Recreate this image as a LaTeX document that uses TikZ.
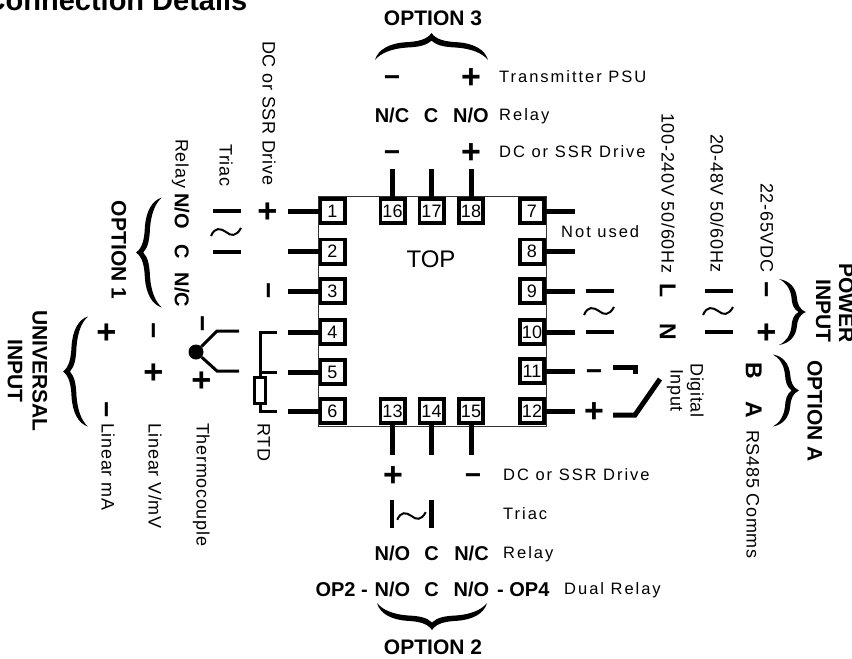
\documentclass[tikz,border=0pt]{standalone}
\usepackage{fontspec}
\setmainfont{Liberation Sans}

\begin{document}
\begin{tikzpicture}[x=1pt, y=-1pt,
      block_chip/.style ={rectangle, draw=black!80, line width=1pt, fill=white,
        minimum width=228pt, minimum height=229.5pt, inner sep=0pt},
      block_pin/.style ={rectangle, draw=black, line width=3.7pt, fill=white,
        minimum size=24.3pt, inner sep=0pt,
        font=\fontsize{18}{19}\selectfont, text height=12.9pt, text depth=0pt},
      block_bar/.style ={rectangle, fill=black, minimum width=28pt,
        minimum height=4.5pt, inner sep=0pt},
      block_res/.style ={rectangle, draw=black, line width=3pt, fill=white,
        minimum width=11pt, minimum height=26pt, inner sep=0pt},
      block_joint/.style ={circle, fill=black, minimum size=15pt, inner sep=0pt},
      turned/.style ={rotate=-90},
      text_plus/.style ={inner sep=0pt, text height=23pt, text depth=0pt,
        font=\fontsize{34}{36}\selectfont\bfseries},
      text_minus/.style ={inner sep=0pt, text height=19pt, text depth=0pt,
        font=\fontsize{28}{30}\selectfont\bfseries},
      text_bold/.style ={inner sep=0pt, text height=14.3pt, text depth=0pt,
        font=\fontsize{20}{22}\selectfont\bfseries},
      text_head/.style ={inner sep=0pt, text height=15pt, text depth=0pt,
        font=\fontsize{21}{23}\selectfont\bfseries},
      text_note/.style ={inner sep=0pt, text height=11.8pt, text depth=0pt,
        font=\fontsize{16.5}{18}\selectfont\addfontfeature{LetterSpace=12}},
      text_side/.style ={inner sep=0pt, text height=13pt, text depth=0pt, rotate=-90,
        font=\fontsize{18}{20}\selectfont\addfontfeature{LetterSpace=4}},
      line/.style ={draw, line width=5pt},
      wire/.style ={draw, line width=3pt},
      brace_curly/.pic={
        \fill (-1,0) .. controls (-0.95,-0.38) and (-0.75,-0.62) .. (-0.45,-0.66)
          .. controls (-0.25,-0.68) and (-0.08,-0.75) .. (0,-1)
          .. controls (0.08,-0.75) and (0.25,-0.68) .. (0.45,-0.66)
          .. controls (0.75,-0.62) and (0.95,-0.38) .. (1,0)
          .. controls (0.9,-0.26) and (0.7,-0.42) .. (0.45,-0.46)
          .. controls (0.25,-0.48) and (0.1,-0.52) .. (0,-0.72)
          .. controls (-0.1,-0.52) and (-0.25,-0.48) .. (-0.45,-0.46)
          .. controls (-0.7,-0.42) and (-0.9,-0.26) .. (-1,0) -- cycle;
      },
      wave_line/.pic={
        \draw[line width=2pt] (-15,4) .. controls (-11,-5) and (-6,-4) .. (0,0)
          .. controls (5,4) and (10,5) .. (15,-4);
      }]
    \useasboundingbox (0,0) rectangle (852,659);
    %
    % 1. the unit and its terminals
    \node [anchor=base west, inner sep=0pt, font=\fontsize{29}{31}\selectfont\bfseries]
      (title) at (-15.5,10) {Connection Details};
    \node [block_chip] (chip) at (432,311.25) {};
    \node [inner sep=0pt, font=\fontsize{24}{26}\selectfont] (top) at (431,259) {TOP};
    % left row
    \node [block_pin] (p1) at (332.5,211) {1};
    \node [block_pin] (p2) at (332.5,251.5) {2};
    \node [block_pin] (p3) at (332.5,291) {3};
    \node [block_pin] (p4) at (332.5,332) {4};
    \node [block_pin] (p5) at (332.5,372) {5};
    \node [block_pin] (p6) at (332.5,411) {6};
    % right row
    \node [block_pin] (p7) at (532,211) {7};
    \node [block_pin] (p8) at (532,251.5) {8};
    \node [block_pin] (p9) at (532,291) {9};
    \node [block_pin] (p10) at (532,332) {10};
    \node [block_pin] (p11) at (532,371) {11};
    \node [block_pin] (p12) at (532,411) {12};
    % bottom row
    \node [block_pin] (p13) at (392.5,411) {13};
    \node [block_pin] (p14) at (431.5,411) {14};
    \node [block_pin] (p15) at (471,411) {15};
    % top row
    \node [block_pin] (p16) at (392.5,211) {16};
    \node [block_pin] (p17) at (431.5,211) {17};
    \node [block_pin] (p18) at (471,211) {18};
    %
    % 2. free ends of the terminal leads
    \coordinate (w1) at (288,211);
    \coordinate (w2) at (288,251.5);
    \coordinate (w3) at (288,291);
    \coordinate (w4) at (288,332);
    \coordinate (w5) at (288,372);
    \coordinate (w6) at (288,411);
    \coordinate (w7) at (575,211);
    \coordinate (w8) at (575,251.5);
    \coordinate (w9) at (575,291);
    \coordinate (w10) at (575,332);
    \coordinate (w11) at (575,371);
    \coordinate (w12) at (575,411);
    \coordinate (w13) at (392.5,455);
    \coordinate (w14) at (431.5,455);
    \coordinate (w15) at (471,455);
    \coordinate (w16) at (392.5,169);
    \coordinate (w17) at (431.5,169);
    \coordinate (w18) at (471,169);
    %
    % 3. option 3, above the unit
    \node [text_head] (op3) at (433,18) {OPTION 3};
    \pic at (431.5,60) [xscale=56.5, yscale=27] {brace_curly};
    \node [text_minus] (psu_neg) at (392,77) {−};
    \node [text_plus] (psu_pos) at (471,77) {+};
    \node [text_note, anchor=west] (psu) at (499,77) {Transmitter PSU};
    \node [text_bold] (rly3_nc) at (392,115) {N/C};
    \node [text_bold] (rly3_c) at (431,115) {C};
    \node [text_bold] (rly3_no) at (471,115) {N/O};
    \node [text_note, anchor=west] (rly3) at (499,115) {Relay};
    \node [text_minus] (dc3_neg) at (392,152) {−};
    \node [text_plus] (dc3_pos) at (471,152) {+};
    \node [text_note, anchor=west] (dc3) at (499,152) {DC or SSR Drive};
    %
    % 4. option 1, left of the unit
    \node [text_plus, turned] (dc1_pos) at (268,211) {+};
    \node [text_minus, turned] (dc1_neg) at (269,291) {−};
    \node [text_side, anchor=west] (dc1) at (269,41) {DC or SSR Drive};
    \node [block_bar] (tri1_a) at (227,211) {};
    \node [block_bar] (tri1_b) at (227,252) {};
    \pic at (226,232) {wave_line};
    \node [text_side, anchor=west] (tri1) at (226,144) {Triac};
    \node [text_side, anchor=west] (rly1) at (182,139) {Relay};
    \node [text_bold, turned] (rly1_no) at (182,211) {N/O};
    \node [text_bold, turned] (rly1_c) at (182,252) {C};
    \node [text_bold, turned] (rly1_nc) at (182,290) {N/C};
    \pic at (162,252.5) [rotate=90, xscale=55, yscale=26] {brace_curly};
    \node [text_head, turned] (op1) at (119,250) {OPTION 1};
    %
    % 5. universal input, left of the unit
    \node [block_res] (rtd_res) at (260,390.5) {};
    \node [text_side, anchor=west] (rtd) at (264,423) {RTD};
    \coordinate (rtd_a) at (277,332);
    \coordinate (rtd_b) at (277,372);
    \coordinate (rtd_c) at (277,411);
    \coordinate (rtd_d) at (260,372);
    \node [block_joint] (tc_joint) at (196,352) {};
    \coordinate (tc_a) at (239,331);
    \coordinate (tc_b) at (217,331);
    \coordinate (tc_c) at (239,371);
    \coordinate (tc_d) at (217,371);
    \node [text_minus, turned] (tc_neg) at (203,324) {−};
    \node [text_plus, turned] (tc_pos) at (202,380) {+};
    \node [text_side, anchor=west] (tc) at (203,423) {Thermocouple};
    \node [text_minus, turned] (lv_neg) at (154,331) {−};
    \node [text_plus, turned] (lv_pos) at (154,372) {+};
    \node [text_side, anchor=west] (lv) at (155,423) {Linear V/mV};
    \node [text_plus, turned] (la_pos) at (107,332) {+};
    \node [text_minus, turned] (la_neg) at (107,410) {−};
    \node [text_side, anchor=west] (la) at (108,423) {Linear mA};
    \pic at (88,371.5) [rotate=90, xscale=55, yscale=25] {brace_curly};
    \node [text_head, turned] (univ) at (40,371) {UNIVERSAL};
    \node [text_head, turned] (univ_in) at (15.5,371) {INPUT};
    %
    % 6. power input, right of the unit
    \node [text_note, anchor=west] (unused) at (561,232) {Not used};
    \node [block_bar] (ac_a) at (600,291) {};
    \node [block_bar] (ac_b) at (600,332) {};
    \pic at (599,311) {wave_line};
    \node [text_bold, turned, font=\fontsize{23}{25}\selectfont\bfseries] (ac_l) at (667,291) {L};
    \node [text_bold, turned, font=\fontsize{23}{25}\selectfont\bfseries] (ac_n) at (667,332) {N};
    \node [text_side, anchor=west] (ac) at (668,113) {100-240V 50/60Hz};
    \node [block_bar] (lv_a) at (718.5,291) {};
    \node [block_bar] (lv_b) at (718.5,332) {};
    \pic at (718,311) {wave_line};
    \node [text_side, anchor=west] (lvac) at (717,134) {20-48V 50/60Hz};
    \node [text_minus, turned] (vdc_neg) at (767,290) {−};
    \node [text_plus, turned] (vdc_pos) at (767,332) {+};
    \node [text_side, anchor=west] (vdc) at (767,183) {22-65VDC};
    \pic at (779,312) [rotate=-90, xscale=33, yscale=27] {brace_curly};
    \node [text_head, turned] (pow) at (846.5,303) {POWER};
    \node [text_head, turned] (pow_in) at (823.5,311) {INPUT};
    %
    % 7. digital input and option A, right of the unit
    \node [text_minus] (dig_neg) at (594,371) {−};
    \node [text_plus] (dig_pos) at (594,411) {+};
    \coordinate (sw_a) at (613,367);
    \coordinate (sw_b) at (635,367);
    \coordinate (sw_c) at (635,374);
    \coordinate (sw_d) at (613,415);
    \coordinate (sw_e) at (635,415);
    \coordinate (sw_f) at (660,379);
    \node [text_side] (dig) at (697,390.5) {Digital};
    \node [text_side] (dig_in) at (677,390.5) {Input};
    \node [text_bold, turned, font=\fontsize{23}{25}\selectfont\bfseries] (com_b) at (753,371) {B};
    \node [text_bold, turned, font=\fontsize{23}{25}\selectfont\bfseries] (com_a) at (753,410) {A};
    \node [text_side, anchor=west] (com) at (753,430) {RS485 Comms};
    \pic at (773,390.5) [rotate=-90, xscale=36, yscale=26] {brace_curly};
    \node [text_head, turned] (opa) at (815,411) {OPTION A};
    %
    % 8. option 2, below the unit
    \node [text_plus] (dc2_pos) at (393,475) {+};
    \node [text_minus] (dc2_neg) at (473,475) {−};
    \node [text_note, anchor=west] (dc2) at (503,475) {DC or SSR Drive};
    \node [block_bar, rotate=90] (tri2_a) at (392,514) {};
    \node [block_bar, rotate=90] (tri2_b) at (431.5,514) {};
    \pic at (411.5,516) [scale=0.95] {wave_line};
    \node [text_note, anchor=west] (tri2) at (503,514) {Triac};
    \node [text_bold] (rly2_no) at (392.5,553) {N/O};
    \node [text_bold] (rly2_c) at (431.5,553) {C};
    \node [text_bold] (rly2_nc) at (471.5,553) {N/C};
    \node [text_note, anchor=west] (rly2) at (503,553) {Relay};
    \node [text_bold, anchor=east] (op2) at (368,589) {OP2 -};
    \node [text_bold] (dual_a) at (392.5,589) {N/O};
    \node [text_bold] (dual_c) at (431.5,589) {C};
    \node [text_bold] (dual_b) at (471.5,589) {N/O};
    \node [text_bold, anchor=west] (op4) at (497,589) {- OP4};
    \node [text_note, anchor=west] (dual) at (564,589) {Dual Relay};
    \pic at (432,603) [rotate=180, xscale=55, yscale=27] {brace_curly};
    \node [text_head] (op2_name) at (433,647) {OPTION 2};
    %
    % 9. connecting nodes with paths
    \begin{scope}[every path/.style=line]
      \path (w1) -- (p1);
      \path (w2) -- (p2);
      \path (w3) -- (p3);
      \path (w4) -- (p4);
      \path (w5) -- (p5);
      \path (w6) -- (p6);
      %
      \path (w7) -- (p7);
      \path (w8) -- (p8);
      \path (w9) -- (p9);
      \path (w10) -- (p10);
      \path (w11) -- (p11);
      \path (w12) -- (p12);
      %
      \path (w13) -- (p13);
      \path (w14) -- (p14);
      \path (w15) -- (p15);
      \path (w16) -- (p16);
      \path (w17) -- (p17);
      \path (w18) -- (p18);
      %
      \path (sw_a) -- (sw_b) -- (sw_c);
      \path (sw_d) -- (sw_e) -- (sw_f);
    \end{scope}
    \begin{scope}[every path/.style=wire]
      \path (rtd_a) -| (rtd_res.north);
      \path (rtd_b) -- (rtd_d);
      \path (rtd_res.south) |- (rtd_c);
      \path (tc_a) -- (tc_b) -- (tc_joint);
      \path (tc_c) -- (tc_d) -- (tc_joint);
    \end{scope}
\end{tikzpicture}
\end{document}
